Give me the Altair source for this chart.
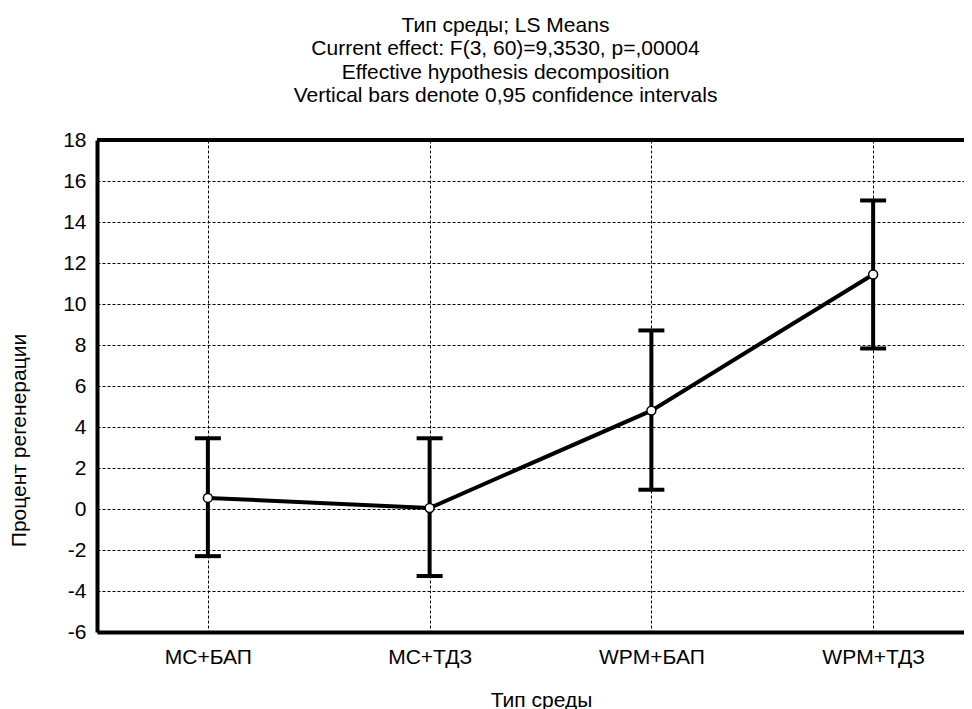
import altair as alt
import pandas as pd

categories = ["МС+БАП", "МС+ТДЗ", "WPM+БАП", "WPM+ТДЗ"]
means = [0.54, 0.05, 4.80, 11.44]
lower = [-2.30, -3.27, 0.94, 7.83]
upper = [3.45, 3.45, 8.71, 15.05]
y_ticks = [-6, -4, -2, 0, 2, 4, 6, 8, 10, 12, 14, 16, 18]
title_lines = [
    "Тип среды; LS Means",
    "Current effect: F(3, 60)=9,3530, p=,00004",
    "Effective hypothesis decomposition",
    "Vertical bars denote 0,95 confidence intervals",
]

df = pd.DataFrame({"cat": categories, "mean": means, "lo": lower, "hi": upper})

FONT = "Liberation Sans"
FS = 21

xscale = alt.Scale(type="point", domain=categories, range=[0, 887], padding=0.5)
yscale = alt.Scale(domain=[-6, 18], nice=False, zero=False)

x_enc = alt.X(
    "cat:N",
    scale=xscale,
    sort=categories,
    axis=alt.Axis(
        title="Тип среды",
        labelAngle=0,
        ticks=False,
        labelPadding=14,
        labelFontSize=FS,
        titleFontSize=FS,
        titleFontWeight="normal",
        titleX=444,
        titleY=74,
        titleAlign="center",
        titleBaseline="alphabetic",
        grid=True,
        gridColor="black",
        gridDash=[3, 2],
        gridWidth=1,
        gridOpacity=1,
        domainColor="black",
        domainWidth=4,
    ),
)
y_axis = alt.Axis(
    title="Процент регенерации",
    values=y_ticks,
    labelExpr="replace(datum.label, '\u2212', '-')",
    ticks=False,
    labelPadding=11,
    labelFontSize=FS,
    titleFontSize=FS,
    titleFontWeight="normal",
    titleX=-78,
    titleY=300,
    titleAngle=-90,
    titleBaseline="middle",
    grid=True,
    gridColor="black",
    gridDash=[3, 2],
    gridWidth=1,
    gridOpacity=1,
    domainColor="black",
    domainWidth=4,
)

base = alt.Chart(df)

rules = base.mark_rule(color="black", strokeWidth=4).encode(
    x=x_enc,
    y=alt.Y("lo:Q", scale=yscale, axis=y_axis),
    y2="hi:Q",
)
caps_lo = base.mark_tick(color="black", thickness=4, size=26, opacity=1).encode(
    x=alt.X("cat:N", sort=categories), y="lo:Q"
)
caps_hi = base.mark_tick(color="black", thickness=4, size=26, opacity=1).encode(
    x=alt.X("cat:N", sort=categories), y="hi:Q"
)
line = base.mark_line(color="black", strokeWidth=4).encode(
    x=alt.X("cat:N", sort=categories), y="mean:Q"
)
points = base.mark_point(
    shape="circle", filled=True, fill="white", stroke="black", strokeWidth=1.5, size=80, opacity=1
).encode(x=alt.X("cat:N", sort=categories), y="mean:Q")
top_border = alt.Chart(pd.DataFrame({"v": [18]})).mark_rule(color="black", strokeWidth=4).encode(
    y=alt.Y("v:Q")
)

chart = (
    alt.layer(rules, caps_lo, caps_hi, line, points, top_border)
    .properties(
        width=867,
        height=492,
        autosize=alt.AutoSizeParams(type="none"),
        padding={"left": 89, "top": 132, "right": 0, "bottom": 77},
        title=alt.TitleParams(
            text=title_lines,
            fontSize=FS,
            fontWeight="normal",
            font=FONT,
            color="black",
            lineHeight=23.3,
            anchor="middle",
            dx=-25,
            offset=23,
        ),
    )
    .configure(font=FONT)
    .configure_axis(labelFont=FONT, titleFont=FONT, labelColor="black", titleColor="black")
    .configure_view(stroke=None)
)

chart.save("out.html", embed_options={"renderer": "svg", "actions": False})
